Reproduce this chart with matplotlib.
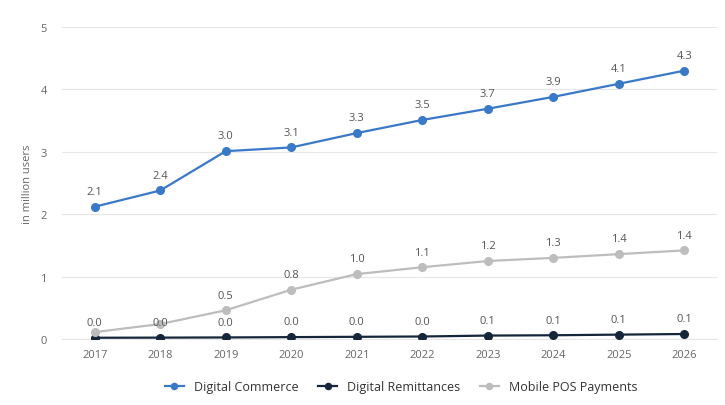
import matplotlib
matplotlib.use("Agg")
import matplotlib.pyplot as plt

years = [2017, 2018, 2019, 2020, 2021, 2022, 2023, 2024, 2025, 2026]
digital_commerce = [2.12, 2.38, 3.01, 3.07, 3.30, 3.51, 3.69, 3.88, 4.09, 4.30]
digital_remittances = [0.02, 0.022, 0.025, 0.03, 0.035, 0.04, 0.055, 0.06, 0.07, 0.08]
mobile_pos = [0.11, 0.24, 0.46, 0.79, 1.04, 1.15, 1.25, 1.30, 1.36, 1.42]
# labels hidden where they overlap in the original
mobile_pos_show = [False, False, True, True, True, True, True, True, True, True]
y_ticks = [0, 1, 2, 3, 4, 5]

plt.rcParams['font.family'] = ['Open Sans', 'DejaVu Sans']
fig = plt.figure(figsize=(7.25, 4.06), dpi=100)
ax = fig.add_axes([62/725, 66/406, (717-62)/725, (340-28)/406])

c_blue = '#3a78c8'
c_dark = '#15263a'
c_gray = '#bdbdbd'
txt = '#555555'

series = [
    ("Digital Commerce", digital_commerce, c_blue, [True]*10),
    ("Digital Remittances", digital_remittances, c_dark, [True]*10),
    ("Mobile POS Payments", mobile_pos, c_gray, mobile_pos_show),
]
order = [2, 0, 1]
handles = {}
for i in order:
    name, vals, col, show = series[i]
    h, = ax.plot(years, vals, color=col, lw=1.6, marker='o', ms=5.5, label=name, zorder=3 + i)
    handles[name] = h
    for x, v, s in zip(years, vals, show):
        if s:
            ax.annotate(f"{v:.1f}", (x, v), xytext=(0, 7), textcoords='offset points',
                        ha='center', va='bottom', fontsize=8, color=txt, zorder=6)

ax.set_xlim(2016.5, 2026.5)
ax.set_ylim(0, 5)
ax.set_yticks(y_ticks)
ax.set_xticks(years)
ax.grid(axis='y', color='#e6e6e6', lw=0.8)
ax.set_axisbelow(True)
for s in ['top', 'right', 'left']:
    ax.spines[s].set_visible(False)
ax.spines['bottom'].set_color('#e6e6e6')
ax.tick_params(axis='both', length=0, labelsize=8, colors='#666666')
ax.tick_params(axis='x', pad=7)
ax.tick_params(axis='y', pad=11)
ax.set_ylabel("in million users", fontsize=8, color='#666666', labelpad=5)

names = [s[0] for s in series]
fig.legend([handles[n] for n in names], names, loc='center', bbox_to_anchor=(401/725, 18/406),
           ncol=3, frameon=False, fontsize=9, handlelength=1.5, columnspacing=1.6,
           labelcolor='#333333', markerscale=0.8)

fig.savefig("out.png", dpi=100)
